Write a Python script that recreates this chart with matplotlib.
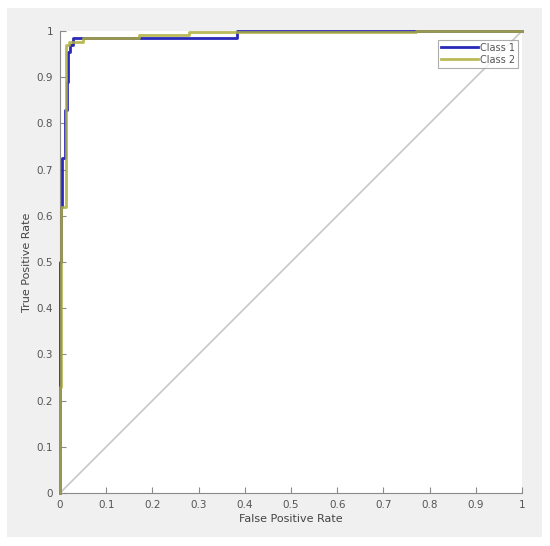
import matplotlib
matplotlib.use("Agg")
import matplotlib.pyplot as plt
from matplotlib.patches import Rectangle

# ROC data (FPR, TPR)
class1_fpr = [0.0, 0.0, 0.002, 0.002, 0.005, 0.005, 0.010, 0.010, 0.015, 0.015, 0.018, 0.018, 0.022, 0.022, 0.028, 0.028, 0.383, 0.383, 1.0]
class1_tpr = [0.0, 0.50, 0.50, 0.62, 0.62, 0.725, 0.725, 0.83, 0.83, 0.89, 0.89, 0.955, 0.955, 0.97, 0.97, 0.985, 0.985, 1.0, 1.0]
class2_fpr = [0.0, 0.0, 0.003, 0.003, 0.012, 0.012, 0.02, 0.02, 0.05, 0.05, 0.17, 0.17, 0.28, 0.28, 0.77, 0.77, 1.0]
class2_tpr = [0.0, 0.23, 0.23, 0.62, 0.62, 0.97, 0.97, 0.977, 0.977, 0.985, 0.985, 0.992, 0.992, 0.997, 0.997, 1.0, 1.0]
diag = [0.0, 1.0]
ticks = [0, 0.1, 0.2, 0.3, 0.4, 0.5, 0.6, 0.7, 0.8, 0.9, 1]
tick_labels = ["0", "0.1", "0.2", "0.3", "0.4", "0.5", "0.6", "0.7", "0.8", "0.9", "1"]

fig = plt.figure(figsize=(5.5, 5.46), dpi=100)
fig.patch.set_facecolor("white")
fig.patches.append(Rectangle((7/550, 1-537/546), (542-7)/550, (537-8)/546,
                             transform=fig.transFigure, facecolor="#f0f0f0",
                             edgecolor="none", zorder=-10))
ax = fig.add_axes([60/550, 1-493/546, 462/550, 462/546])
ax.set_zorder(1)
ax.set_facecolor("white")

ax.plot(diag, diag, color="#c8c8c8", lw=1.2)
ax.plot(class1_fpr, class1_tpr, color="#2a2ab8", lw=2.0, label="Class 1", clip_on=False, zorder=3)
ax.plot(class2_fpr, class2_tpr, color="#aeae3c", lw=2.0, label="Class 2", alpha=0.85, clip_on=False, zorder=4)

ax.set_xlim(0, 1)
ax.set_ylim(0, 1)
ax.set_xticks(ticks)
ax.set_xticklabels(tick_labels)
ax.set_yticks(ticks)
ax.set_yticklabels(tick_labels)
for s in ["top", "right"]:
    ax.spines[s].set_visible(False)
for s in ["left", "bottom"]:
    ax.spines[s].set_color("#8a8a8a")
    ax.spines[s].set_linewidth(0.8)
ax.tick_params(direction="in", length=4, width=0.8, color="#8a8a8a",
               labelsize=7.5, labelcolor="#555555", pad=5)
ax.set_xlabel("False Positive Rate", fontsize=8, color="#444444", labelpad=3)
ax.set_ylabel("True Positive Rate", fontsize=8, color="#444444", labelpad=3)

leg = ax.legend(loc="upper right", fontsize=7, frameon=True, fancybox=False,
                bbox_to_anchor=(0.995, 0.985), handlelength=3.8, handletextpad=0.2,
                borderpad=0.3, labelspacing=0.2, borderaxespad=0.2)
leg.get_frame().set_edgecolor("#999999")
leg.get_frame().set_linewidth(0.8)
leg.set_zorder(10)
for t in leg.get_texts():
    t.set_color("#555555")

fig.savefig("out.png", dpi=100)
